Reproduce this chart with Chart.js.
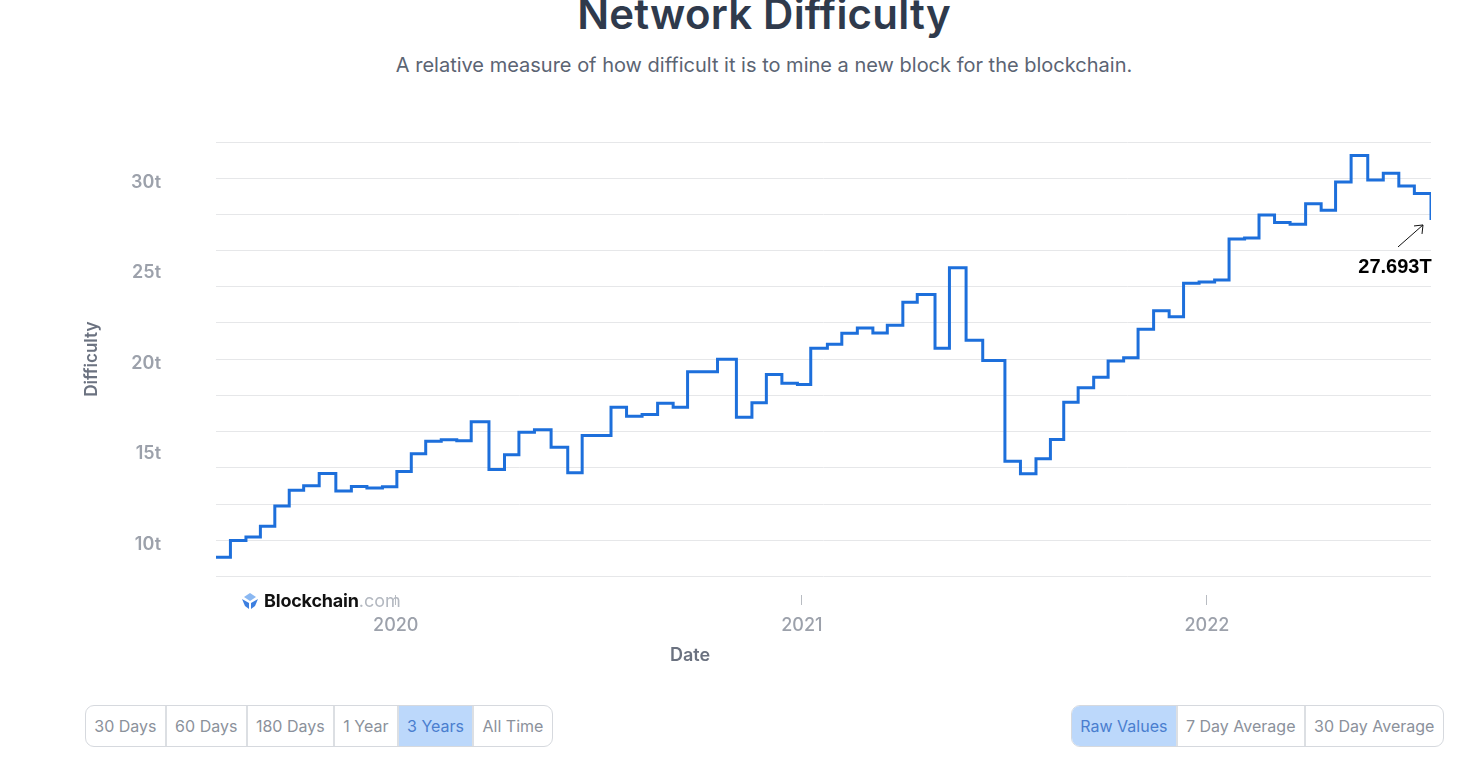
<!DOCTYPE html>
<html>
<head>
<meta charset="utf-8">
<script src="https://cdn.jsdelivr.net/npm/chart.js@4.4.1/dist/chart.umd.min.js"></script>
<style>
  html, body { margin: 0; padding: 0; background: #fff; }
  body { width: 1471px; height: 760px; position: relative; overflow: hidden; font-family: Inter, "Noto Sans", sans-serif; }
  .head { position: absolute; left: 57px; width: 1414px; top: 0; text-align: center; }
  .head h1 { margin: 0; position: absolute; left: 0; right: 0; top: -12px; font-size: 42px; font-weight: 600; color: #2f3a4c; letter-spacing: 0.2px; }
  .head p { margin: 0; position: absolute; left: 0; right: 0; top: 53px; font-size: 20px; color: #5b6473; }
  #wrap { position: absolute; left: 60px; top: 110px; width: 1400px; height: 580px; }
  .xtitle { position: absolute; left: 590px; width: 200px; top: 644px; text-align: center; font-size: 18px; font-weight: 600; color: #6b7280; }
  .logo { position: absolute; left: 241px; top: 590px; display: flex; align-items: center; font-size: 18px; }
  .logo b { color: #111; font-weight: 700; margin-left: 5px; letter-spacing: -0.2px; }
  .logo span { color: #b3b8c0; font-weight: 400; }
  .group { position: absolute; top: 705px; height: 40px; display: flex; border: 1px solid #d6d9de; border-radius: 9px; overflow: hidden; }
  .group div { padding: 0 8.3px; line-height: 40px; font-size: 16px; color: #8b919b; border-left: 2px solid #dcdfe3; }
  .group div:first-child { border-left: none; }
  .group div.on { background: #bcd8fb; color: #4a7ecf; }
</style>
</head>
<body>
<div class="head">
  <h1>Network Difficulty</h1>
  <p>A relative measure of how difficult it is to mine a new block for the blockchain.</p>
</div>
<div id="wrap"><canvas id="diffChart"></canvas></div>
<div class="xtitle">Date</div>
<div class="logo">
  <svg width="18" height="18" viewBox="0 0 18 18">
    <polygon points="9,1 15,5 9,9 3,5" fill="#8ab8f2"/>
    <polygon points="1,7 8,11 8,17 4,14" fill="#3d7fe0"/>
    <polygon points="17,7 10,11 10,17 14,14" fill="#3d7fe0"/>
  </svg>
  <b>Blockchain</b><span>.com</span>
</div>
<div class="group" style="left:85px;">
  <div>30 Days</div><div>60 Days</div><div>180 Days</div><div>1 Year</div><div class="on">3 Years</div><div>All Time</div>
</div>
<div class="group" style="left:1071px;">
  <div class="on">Raw Values</div><div>7 Day Average</div><div>30 Day Average</div>
</div>
<script>
// difficulty adjustment dates and new values (in T)
var stepDates = [
  '2019-07-23', '2019-08-05', '2019-08-19', '2019-09-01', '2019-09-14', '2019-09-27',
  '2019-10-10', '2019-10-24', '2019-11-08', '2019-11-22', '2019-12-06', '2019-12-20',
  '2020-01-02', '2020-01-15', '2020-01-28', '2020-02-11', '2020-02-25', '2020-03-09',
  '2020-03-25', '2020-04-08', '2020-04-21', '2020-05-05', '2020-05-20', '2020-06-04',
  '2020-06-17', '2020-07-13', '2020-07-27', '2020-08-10', '2020-08-24', '2020-09-07',
  '2020-09-20', '2020-10-17', '2020-11-03', '2020-11-17', '2020-11-30', '2020-12-14',
  '2020-12-28', '2021-01-09', '2021-01-24', '2021-02-06', '2021-02-20', '2021-03-06',
  '2021-03-19', '2021-04-02', '2021-04-15', '2021-05-01', '2021-05-14', '2021-05-29',
  '2021-06-13', '2021-07-03', '2021-07-17', '2021-07-31', '2021-08-13', '2021-08-25',
  '2021-09-07', '2021-09-21', '2021-10-04', '2021-10-18', '2021-10-31', '2021-11-14',
  '2021-11-28', '2021-12-11', '2021-12-25', '2022-01-08', '2022-01-21', '2022-02-04',
  '2022-02-17', '2022-03-03', '2022-03-17', '2022-03-31', '2022-04-14', '2022-04-27',
  '2022-05-11', '2022-05-26', '2022-06-09', '2022-06-23', '2022-07-07', '2022-07-22'
];
var difficulty = [
  9.06, 9.99, 10.18, 10.77, 11.89, 12.76,
  13.01, 13.69, 12.72, 12.97, 12.88, 12.95,
  13.80, 14.78, 15.47, 15.55, 15.49, 16.55,
  13.91, 14.72, 15.96, 16.10, 15.14, 13.73,
  15.78, 17.35, 16.85, 16.95, 17.56, 17.35,
  19.31, 20.00, 16.79, 17.60, 19.16, 18.67,
  18.60, 20.61, 20.82, 21.43, 21.72, 21.45,
  21.87, 23.14, 23.58, 20.61, 25.05, 21.05,
  19.93, 14.36, 13.67, 14.50, 15.56, 17.62,
  18.42, 19.00, 19.90, 20.08, 21.66, 22.67,
  22.34, 24.20, 24.27, 24.37, 26.64, 26.69,
  27.97, 27.55, 27.45, 28.59, 28.23, 29.79,
  31.25, 29.90, 30.28, 29.57, 29.15, 27.693
];
var yearTickDates = ['2020-01-01', '2021-01-01', '2022-01-01'];
var yearTickLabels = ['2020', '2021', '2022'];
var lastLabel = '27.693T';

function toDay(s) { return Date.parse(s) / 86400000; }

var points = stepDates.map(function (d, i) { return { x: toDay(d), y: difficulty[i] }; });
var yearTicks = yearTickDates.map(toDay);

var lastValueNote = {
  id: 'lastValueNote',
  afterDatasetsDraw: function (chart) {
    var meta = chart.getDatasetMeta(0);
    var p = meta.data[meta.data.length - 1];
    var c = chart.ctx;
    c.save();
    c.strokeStyle = '#111';
    c.lineWidth = 1;
    var x1 = p.x - 33, y1 = p.y + 27, x2 = p.x - 8, y2 = p.y + 5;
    c.beginPath();
    c.moveTo(x1, y1); c.lineTo(x2, y2);
    c.moveTo(x2 - 9, y2 + 1); c.lineTo(x2, y2); c.lineTo(x2 - 1, y2 + 9);
    c.stroke();
    c.fillStyle = '#000';
    c.font = 'bold 20px "Liberation Sans", sans-serif';
    c.textAlign = 'center';
    c.textBaseline = 'middle';
    c.fillText(lastLabel, p.x - 36, p.y + 48);
    c.restore();
  }
};

document.addEventListener('DOMContentLoaded', function () {
  var ctx = document.getElementById('diffChart').getContext('2d');
  var diffChart = new Chart(ctx, {
    type: 'line',
    data: {
      datasets: [{
        label: 'Difficulty',
        data: points,
        stepped: true,
        borderColor: '#1d6fdb',
        borderWidth: 3,
        pointRadius: 0,
        fill: false
      }]
    },
    options: {
      responsive: true,
      maintainAspectRatio: false,
      animation: false,
      layout: { padding: { top: 32, right: 29, bottom: 45, left: 22 } },
      plugins: { legend: { display: false }, tooltip: { enabled: false } },
      scales: {
        x: {
          type: 'linear',
          min: toDay(stepDates[0]),
          max: toDay(stepDates[stepDates.length - 1]),
          afterBuildTicks: function (scale) {
            scale.ticks = yearTicks.map(function (v) { return { value: v }; });
          },
          ticks: {
            autoSkip: false,
            maxRotation: 0,
            padding: 9,
            color: '#9ca1ab',
            font: { family: 'Inter', size: 18, weight: '500' },
            callback: function (v) {
              var i = yearTicks.indexOf(v);
              return i >= 0 ? yearTickLabels[i] : '';
            }
          },
          grid: {
            drawOnChartArea: false,
            tickLength: 29,
            tickColor: '#b8bcc2',
            tickWidth: 1,
            tickBorderDash: [0, 19, 10, 40]
          },
          border: { display: false },
          title: { display: false }
        },
        y: {
          min: 8,
          max: 32,
          afterFit: function (scale) {
            scale.width = 134;
            scale.paddingTop = 0;
            scale.paddingBottom = 0;
          },
          ticks: {
            stepSize: 1,
            autoSkip: false,
            padding: 55,
            labelOffset: 4,
            color: '#9ca1ab',
            font: { family: 'Inter', size: 18, weight: '600' },
            callback: function (v) { return v % 5 === 0 ? v + 't' : ''; }
          },
          grid: {
            drawTicks: false,
            color: function (c) { return c.tick && c.tick.value % 2 === 0 ? '#e6e7e9' : 'rgba(0,0,0,0)'; },
            lineWidth: 1
          },
          border: { display: false },
          title: {
            display: true,
            text: 'Difficulty',
            color: '#6b7280',
            font: { family: 'Inter', size: 17, weight: '600' },
            padding: { top: 0, bottom: 0 }
          }
        }
      }
    },
    plugins: [lastValueNote]
  });
});
</script>
</body>
</html>
